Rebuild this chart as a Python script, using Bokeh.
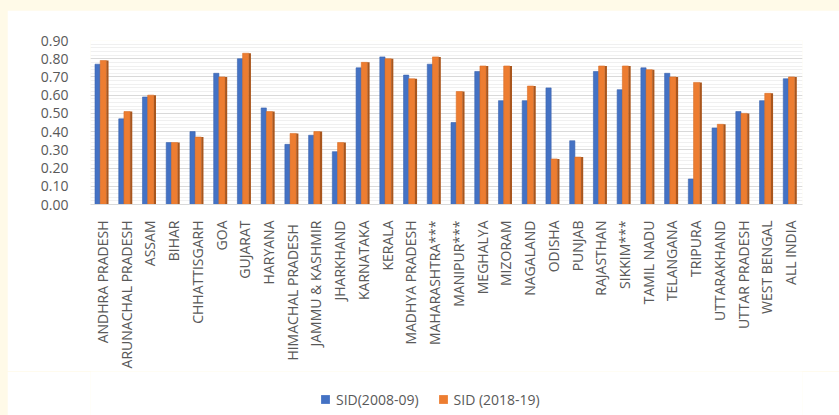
import math
from bokeh.plotting import figure
from bokeh.models import (ColumnDataSource, FactorRange, Legend, LegendItem,
                          NumeralTickFormatter, SingleIntervalTicker)
from bokeh.layouts import column
from bokeh.transform import dodge
from bokeh.embed import file_html
from bokeh.resources import INLINE

states = ["ANDHRA PRADESH", "ARUNACHAL PRADESH", "ASSAM", "BIHAR", "CHHATTISGARH",
          "GOA", "GUJARAT", "HARYANA", "HIMACHAL  PRADESH", "JAMMU & KASHMIR",
          "JHARKHAND", "KARNATAKA", "KERALA", "MADHYA PRADESH", "MAHARASHTRA***",
          "MANIPUR***", "MEGHALYA", "MIZORAM", "NAGALAND", "ODISHA", "PUNJAB",
          "RAJASTHAN", "SIKKIM***", "TAMIL NADU", "TELANGANA", "TRIPURA",
          "UTTARAKHAND", "UTTAR PRADESH", "WEST BENGAL", "ALL INDIA"]
sid_2008_09 = [0.77, 0.47, 0.59, 0.34, 0.40, 0.72, 0.80, 0.53, 0.33, 0.38,
               0.29, 0.75, 0.81, 0.71, 0.77, 0.45, 0.73, 0.57, 0.57, 0.64,
               0.35, 0.73, 0.63, 0.75, 0.72, 0.14, 0.42, 0.51, 0.57, 0.69]
sid_2018_19 = [0.79, 0.51, 0.60, 0.34, 0.37, 0.70, 0.83, 0.51, 0.39, 0.40,
               0.34, 0.78, 0.80, 0.69, 0.81, 0.62, 0.76, 0.76, 0.65, 0.25,
               0.26, 0.76, 0.76, 0.74, 0.70, 0.67, 0.44, 0.50, 0.61, 0.70]
series_names = ["SID(2008-09)", "SID (2018-19)"]

FONT = "Open Sans"
TXT = "#595959"
BLUE, ORANGE, ORANGE_SIDE = "#4472C4", "#ED7D31", "#A9561D"

src = ColumnDataSource(dict(state=states, a=sid_2008_09, b=sid_2018_19))

p = figure(x_range=FactorRange(factors=states, range_padding=0), y_range=(0, 0.9),
           width=832, height=361, output_backend="svg", toolbar_location=None,
           min_border_left=83, min_border_right=37, min_border_top=30,
           min_border_bottom=167, background_fill_color="white",
           border_fill_color="white", outline_line_color=None)

p.vbar(x=dodge("state", -0.20, range=p.x_range), top="a", width=0.22,
       source=src, fill_color=BLUE, line_color="#3a63ad", line_width=0.6)
p.vbar(x=dodge("state", 0.04, range=p.x_range), top="b", width=0.26,
       source=src, fill_color=ORANGE, line_color="#d96d25", line_width=0.6)
p.vbar(x=dodge("state", 0.215, range=p.x_range), top="b", width=0.09,
       source=src, fill_color=ORANGE_SIDE, line_color=None)

p.yaxis.ticker = SingleIntervalTicker(interval=0.1, num_minor_ticks=5)
p.yaxis.formatter = NumeralTickFormatter(format="0.00")
p.yaxis.axis_line_color = None
p.yaxis.major_tick_line_color = None
p.yaxis.minor_tick_line_color = None
p.yaxis.major_label_standoff = 16
p.yaxis.major_label_text_font = FONT
p.yaxis.major_label_text_font_size = "14px"
p.yaxis.major_label_text_color = TXT

p.xaxis.axis_line_color = "#d9d9d9"
p.xaxis.major_tick_line_color = None
p.xaxis.minor_tick_line_color = None
p.xaxis.major_label_orientation = math.pi / 2
p.xaxis.major_label_standoff = 10
p.xaxis.major_label_text_font = FONT
p.xaxis.major_label_text_font_size = "14px"
p.xaxis.major_label_text_color = TXT

p.xgrid.grid_line_color = None
p.ygrid.grid_line_color = "#d9d9d9"
p.ygrid.minor_grid_line_color = "#f0f0f0"

# legend strip below the chart (its markers lie below the visible range)
lf = figure(width=832, height=44, output_backend="svg", toolbar_location=None,
            min_border=0, outline_line_color=None,
            x_range=FactorRange(factors=states, range_padding=0), y_range=(1, 2),
            background_fill_color="white", border_fill_color="white")
lf.axis.visible = False
lf.grid.visible = False
r1 = lf.scatter(x="state", y="a", marker="square", size=9, source=src,
                fill_color=BLUE, line_color=None)
r2 = lf.scatter(x="state", y="b", marker="square", size=9, source=src,
                fill_color=ORANGE, line_color=None)
legend = Legend(items=[LegendItem(label=series_names[0], renderers=[r1]),
                       LegendItem(label=series_names[1], renderers=[r2])],
                orientation="horizontal", location=(224, 5),
                label_text_font=FONT, label_text_font_size="14px",
                label_text_color=TXT, glyph_width=22, glyph_height=22,
                label_standoff=0, label_height=20, spacing=13,
                border_line_color=None, background_fill_alpha=0,
                margin=0, padding=4)
lf.add_layout(legend)

layout = column(p, lf, spacing=0)

html = file_html(layout, INLINE)
style = ("<style>html,body{margin:0;padding:0;background:#FFFAE8;}"
         "body{padding:10px 0 0 7px !important;box-sizing:border-box;}</style>")
html = html.replace("</head>", style + "</head>", 1)
open("out.html", "w").write(html)
